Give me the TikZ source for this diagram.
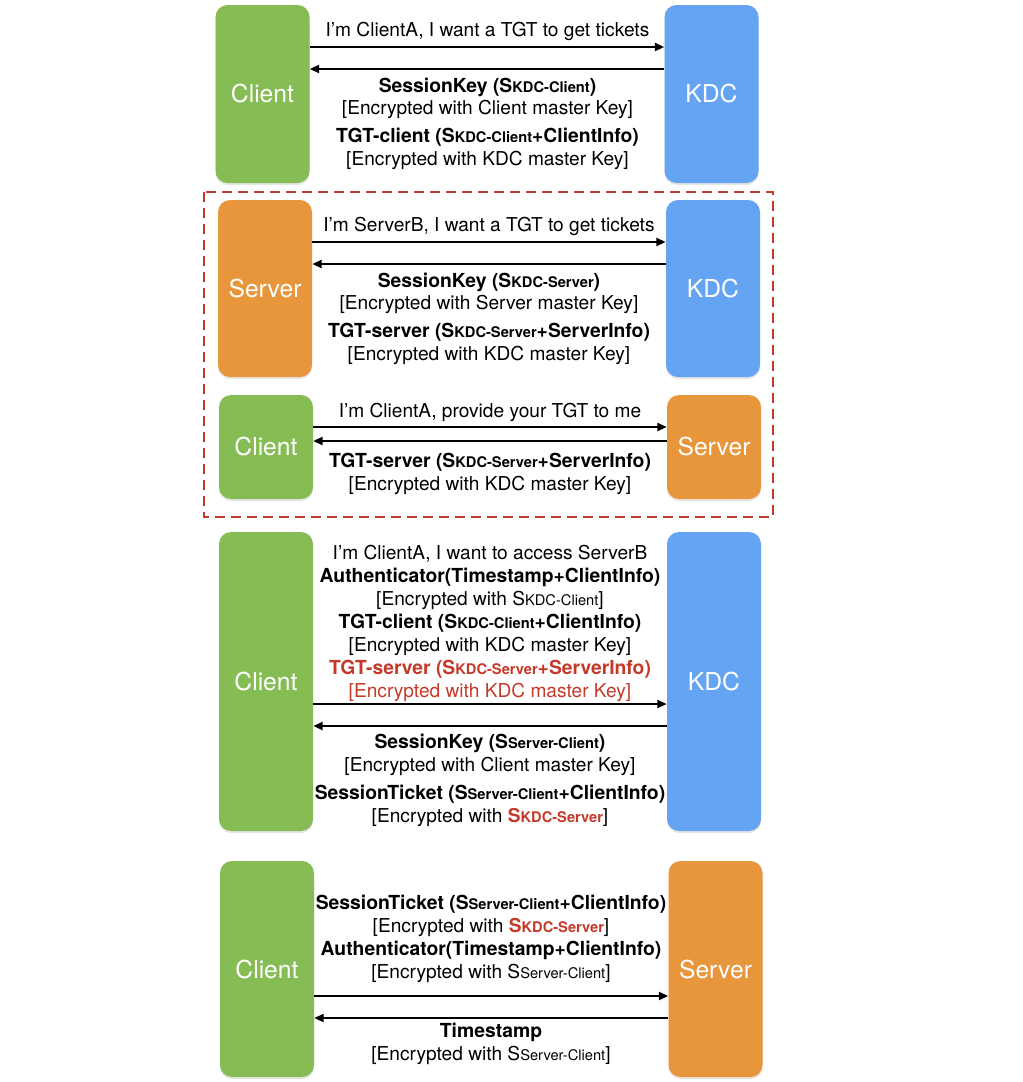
\documentclass[tikz,border=0pt]{standalone}
\usepackage{fontspec}
\setmainfont{TeX Gyre Heros}
\usetikzlibrary{arrows.meta, shadows}
\definecolor{cgreen}{HTML}{86BC54}
\definecolor{cblue}{HTML}{65A4F3}
\definecolor{corange}{HTML}{E8963C}
\definecolor{cred}{HTML}{C5392A}
\newcommand{\ks}[1]{{\fontsize{11}{10}\selectfont #1}}
\newcommand{\rs}{{\color{cred}\bfseries S\ks{KDC-Server}}}
\tikzset{
  agent/.style={rounded corners=9pt, minimum width=70.5pt, inner sep=0pt, text=white,
    font=\fontsize{18.5}{18}\selectfont,
    drop shadow={shadow xshift=0pt, shadow yshift=-1.5pt, opacity=0.2}},
  line/.style={font=\fontsize{14.35}{14}\selectfont, inner sep=0pt, text height=12pt, text depth=2pt},
  bold/.style={line, font=\fontsize{14.5}{14}\selectfont\bfseries},
  msg/.style={line width=1.5pt, -{Triangle[length=7pt,width=6pt]}},
}

\begin{document}
\begin{tikzpicture}[x=0.75pt, y=-0.75pt]
    \useasboundingbox (0,0) rectangle (1023,1082);

    % client asks the KDC for a TGT
    \node[agent, fill=cgreen, minimum height=133.5pt] (client1) at (262.5,94) {Client};
    \node[agent, fill=cblue, minimum height=133.5pt] (kdc1) at (711.5,94) {KDC};
    \draw[msg] (client1.east |- 0,47) -- (kdc1.west |- 0,47);
    \draw[msg] (kdc1.west |- 0,69) -- (client1.east |- 0,69);
    \node[line] (t1a) at (487.5,30) {I'm ClientA, I want a TGT to get tickets};
    \node[bold] (t1b) at (487.5,86) {SessionKey (S\ks{KDC-Client})};
    \node[line] (t1c) at (487.5,108) {[Encrypted with Client master Key]};
    \node[bold] (t1d) at (487.5,136) {TGT-client (S\ks{KDC-Client}+ClientInfo)};
    \node[line] (t1e) at (487.5,159) {[Encrypted with KDC master Key]};

    % server side, in the dashed frame
    \draw[cred, line width=1.5pt, dash pattern=on 7.5pt off 4.5pt] (204,192) rectangle (773,517);

    \node[agent, fill=corange, minimum height=132.75pt] (server2) at (265,288.5) {Server};
    \node[agent, fill=cblue, minimum height=132.75pt] (kdc2) at (713,288.5) {KDC};
    \draw[msg] (server2.east |- 0,242) -- (kdc2.west |- 0,242);
    \draw[msg] (kdc2.west |- 0,264) -- (server2.east |- 0,264);
    \node[line] (t2a) at (489,225) {I'm ServerB, I want a TGT to get tickets};
    \node[bold] (t2b) at (489,281) {SessionKey (S\ks{KDC-Server})};
    \node[line] (t2c) at (489,303) {[Encrypted with Server master Key]};
    \node[bold] (t2d) at (489,331) {TGT-server (S\ks{KDC-Server}+ServerInfo)};
    \node[line] (t2e) at (489,354) {[Encrypted with KDC master Key]};

    \node[agent, fill=cgreen, minimum height=78pt] (client2) at (266,447) {Client};
    \node[agent, fill=corange, minimum height=78pt] (server2b) at (714,447) {Server};
    \draw[msg] (client2.east |- 0,427) -- (server2b.west |- 0,427);
    \draw[msg] (server2b.west |- 0,441) -- (client2.east |- 0,441);
    \node[line] (t2f) at (490,411) {I'm ClientA, provide your TGT to me};
    \node[bold] (t2g) at (490,461) {TGT-server (S\ks{KDC-Server}+ServerInfo)};
    \node[line] (t2h) at (490,484) {[Encrypted with KDC master Key]};

    % client asks the KDC for a session ticket
    \node[agent, fill=cgreen, minimum height=224.25pt] (client3) at (266,681.5) {Client};
    \node[agent, fill=cblue, minimum height=224.25pt] (kdc3) at (714,681.5) {KDC};
    \draw[msg] (client3.east |- 0,704) -- (kdc3.west |- 0,704);
    \draw[msg] (kdc3.west |- 0,726) -- (client3.east |- 0,726);
    \node[line] (t3a) at (490,553) {I'm ClientA, I want to access ServerB};
    \node[bold] (t3b) at (490,576) {Authenticator(Timestamp+ClientInfo)};
    \node[line] (t3c) at (490,599) {[Encrypted with S\ks{KDC-Client}]};
    \node[bold] (t3d) at (490,622) {TGT-client (S\ks{KDC-Client}+ClientInfo)};
    \node[line] (t3e) at (490,645) {[Encrypted with KDC master Key]};
    \node[bold, text=cred] (t3f) at (490,668) {TGT-server (S\ks{KDC-Server}+ServerInfo)};
    \node[line, text=cred] (t3g) at (490,691) {[Encrypted with KDC master Key]};
    \node[bold] (t3h) at (490,742) {SessionKey (S\ks{Server-Client})};
    \node[line] (t3i) at (490,765) {[Encrypted with Client master Key]};
    \node[bold] (t3j) at (490,793) {SessionTicket (S\ks{Server-Client}+ClientInfo)};
    \node[line] (t3k) at (490,816) {[Encrypted with \rs]};

    % client talks to the server
    \node[agent, fill=cgreen, minimum height=162pt] (client4) at (267,969) {Client};
    \node[agent, fill=corange, minimum height=162pt] (server4) at (715.5,969) {Server};
    \draw[msg] (client4.east |- 0,996) -- (server4.west |- 0,996);
    \draw[msg] (server4.west |- 0,1018) -- (client4.east |- 0,1018);
    \node[bold] (t4a) at (491,903) {SessionTicket (S\ks{Server-Client}+ClientInfo)};
    \node[line] (t4b) at (491,926) {[Encrypted with \rs]};
    \node[bold] (t4c) at (491,949) {Authenticator(Timestamp+ClientInfo)};
    \node[line] (t4d) at (491,972) {[Encrypted with S\ks{Server-Client}]};
    \node[bold] (t4e) at (491,1031) {Timestamp};
    \node[line] (t4f) at (491,1054) {[Encrypted with S\ks{Server-Client}]};
\end{tikzpicture}
\end{document}
